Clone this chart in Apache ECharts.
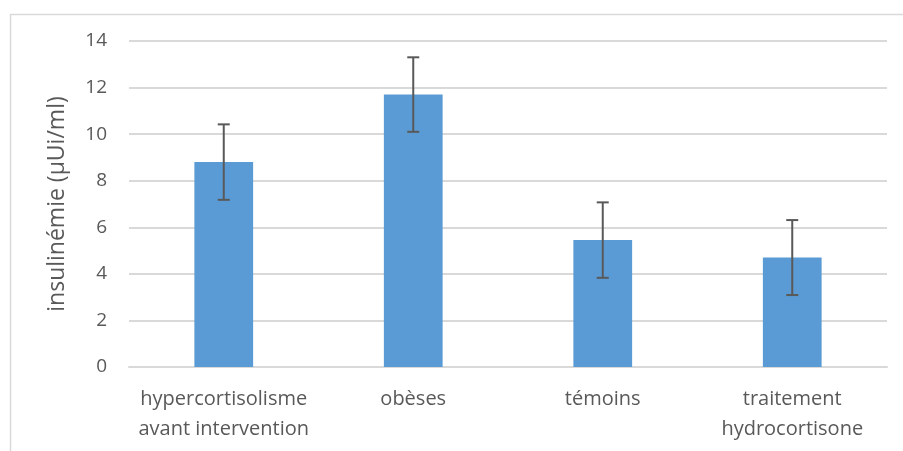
<!DOCTYPE html>
<html>
<head>
<meta charset="utf-8">
<script src="https://cdn.jsdelivr.net/npm/echarts@6/dist/echarts.min.js"></script>
<style>
html,body{margin:0;padding:0;background:#fff;}
#chart{width:903px;height:451px;}
</style>
</head>
<body>
<div id="chart"></div>
<script>
const categories = ['hypercortisolisme\navant intervention', 'obèses', 'témoins', 'traitement\nhydrocortisone'];
const means = [8.8, 11.7, 5.45, 4.7];
const errors = [1.62, 1.6, 1.62, 1.61];
const yTicks = [0, 2, 4, 6, 8, 10, 12, 14];

const FONT = '"Open Sans", Lato, sans-serif';
const chart = echarts.init(document.getElementById('chart'), null, {renderer: 'canvas'});
const errData = means.map((m, i) => [i, m - errors[i], m + errors[i]]);

chart.setOption({
  animation: false,
  backgroundColor: '#fff',
  graphic: [{
    type: 'rect', left: 8, top: 12, shape: {width: 1000, height: 600},
    style: {fill: 'none', stroke: '#D9D9D9', lineWidth: 1.5}, silent: true, z: -1
  }],
  grid: {left: 129, right: 16, top: 41, bottom: 84},
  xAxis: {
    type: 'category',
    data: categories,
    axisLine: {lineStyle: {color: '#D9D9D9', width: 2}},
    axisTick: {show: false},
    axisLabel: {color: '#595959', fontFamily: FONT, fontSize: 20, lineHeight: 30, margin: 17, interval: 0}
  },
  yAxis: {
    type: 'value',
    min: yTicks[0], max: yTicks[yTicks.length - 1], interval: 2,
    name: 'insulinémie (µUi/ml)',
    nameLocation: 'middle',
    nameGap: 60,
    nameTextStyle: {color: '#595959', fontFamily: FONT, fontSize: 23},
    axisLine: {show: false},
    axisTick: {show: false},
    axisLabel: {color: '#595959', fontFamily: FONT, fontSize: 19, margin: 22},
    splitLine: {lineStyle: {color: '#D9D9D9', width: 2}}
  },
  series: [{
    type: 'bar',
    data: means,
    barWidth: '31%',
    itemStyle: {color: '#5B9BD5'}
  }, {
    type: 'custom',
    data: errData,
    z: 10,
    renderItem: function (params, api) {
      const x = api.value(0);
      const lo = api.coord([x, api.value(1)]);
      const hi = api.coord([x, api.value(2)]);
      const hw = 6;
      const st = {stroke: '#595959', lineWidth: 2};
      return {
        type: 'group',
        children: [
          {type: 'line', shape: {x1: hi[0], y1: hi[1], x2: lo[0], y2: lo[1]}, style: st},
          {type: 'line', shape: {x1: hi[0] - hw, y1: hi[1], x2: hi[0] + hw, y2: hi[1]}, style: st},
          {type: 'line', shape: {x1: lo[0] - hw, y1: lo[1], x2: lo[0] + hw, y2: lo[1]}, style: st}
        ]
      };
    }
  }]
});
</script>
</body>
</html>
